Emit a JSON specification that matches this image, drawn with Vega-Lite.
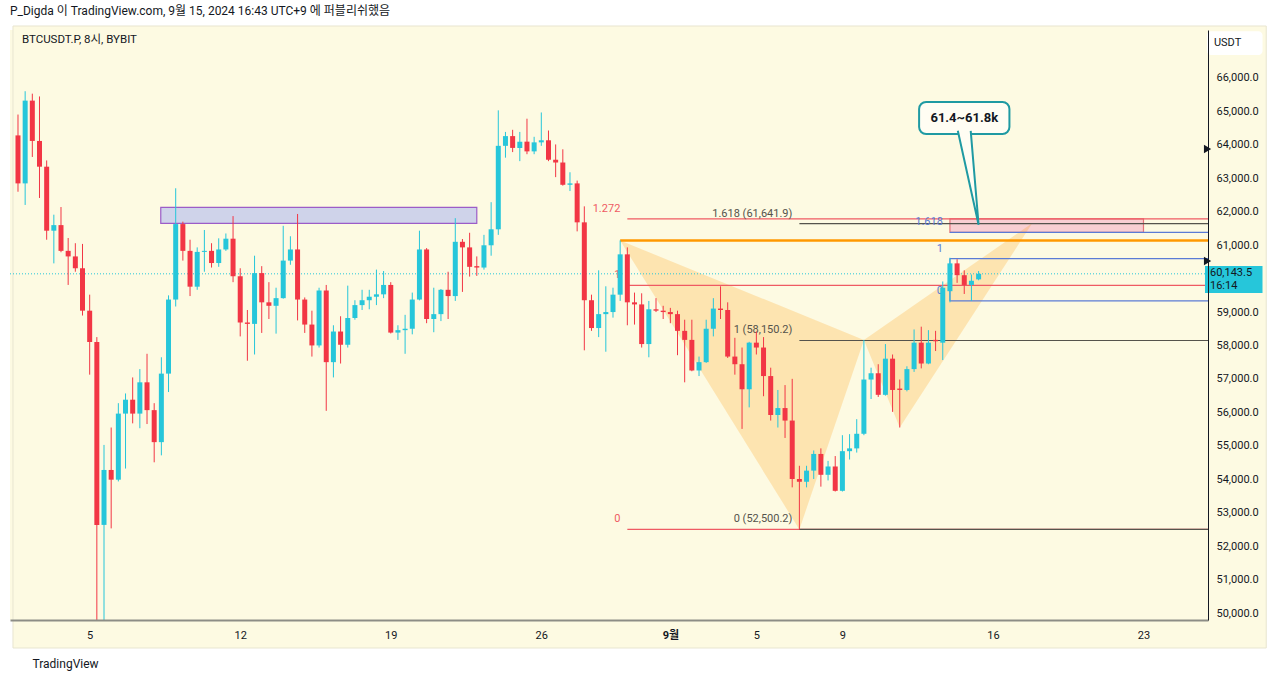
{
"$schema":"https://vega.github.io/schema/vega-lite/v6.json",
"width":1198,"height":590,
"autosize":{"type":"none"},
"padding":{"left":10,"top":30,"right":72,"bottom":61},
"background":"#ffffff",
"view":{"stroke":null,"fill":"#fdfae2"},
"config":{"font":"Roboto, Noto Sans CJK KR"},
"title":{"text":"P_Digda 이 TradingView.com, 9월 15, 2024 16:43 UTC+9 에 퍼블리쉬했음","anchor":"start","frame":"group","offset":7,"fontSize":12,"fontWeight":"normal","font":"Roboto, Noto Sans CJK KR","color":"#131722"},
"datasets":{
"candles":[
{"t":"2024-08-01T17:00Z","o":64283,"h":64907,"l":62598,"c":62848},
{"t":"2024-08-02T01:00Z","o":62848,"h":65604,"l":62203,"c":65323},
{"t":"2024-08-02T09:00Z","o":65323,"h":65531,"l":63638,"c":64117},
{"t":"2024-08-02T17:00Z","o":64117,"h":65448,"l":62411,"c":63347},
{"t":"2024-08-03T01:00Z","o":63347,"h":63534,"l":61163,"c":61433},
{"t":"2024-08-03T09:00Z","o":61433,"h":61912,"l":60456,"c":61600},
{"t":"2024-08-03T17:00Z","o":61600,"h":62141,"l":60789,"c":60830},
{"t":"2024-08-04T01:00Z","o":60830,"h":61215,"l":59811,"c":60664},
{"t":"2024-08-04T09:00Z","o":60664,"h":61059,"l":60206,"c":60310},
{"t":"2024-08-04T17:00Z","o":60310,"h":61038,"l":58896,"c":59041},
{"t":"2024-08-05T01:00Z","o":59041,"h":59520,"l":57128,"c":58105},
{"t":"2024-08-05T09:00Z","o":58105,"h":58251,"l":49000,"c":52635},
{"t":"2024-08-05T17:00Z","o":52635,"h":55027,"l":49500,"c":54278},
{"t":"2024-08-06T01:00Z","o":54278,"h":55547,"l":52531,"c":53987},
{"t":"2024-08-06T09:00Z","o":53987,"h":56275,"l":53935,"c":55963},
{"t":"2024-08-06T17:00Z","o":55963,"h":56566,"l":54320,"c":56379},
{"t":"2024-08-07T01:00Z","o":56379,"h":57045,"l":55672,"c":55963},
{"t":"2024-08-07T09:00Z","o":55963,"h":57294,"l":55526,"c":56899},
{"t":"2024-08-07T17:00Z","o":56899,"h":57752,"l":55651,"c":56067},
{"t":"2024-08-08T01:00Z","o":56067,"h":56275,"l":54507,"c":55110},
{"t":"2024-08-08T09:00Z","o":55110,"h":57648,"l":54715,"c":57159},
{"t":"2024-08-08T17:00Z","o":57159,"h":59499,"l":56608,"c":59374},
{"t":"2024-08-09T01:00Z","o":59374,"h":62702,"l":59166,"c":61631},
{"t":"2024-08-09T09:00Z","o":61631,"h":61704,"l":60539,"c":60830},
{"t":"2024-08-09T17:00Z","o":60830,"h":61163,"l":59478,"c":59759},
{"t":"2024-08-10T01:00Z","o":59759,"h":60934,"l":59666,"c":60799},
{"t":"2024-08-10T09:00Z","o":60799,"h":61454,"l":60206,"c":60830},
{"t":"2024-08-10T17:00Z","o":60830,"h":61059,"l":60331,"c":60466},
{"t":"2024-08-11T01:00Z","o":60466,"h":61205,"l":60352,"c":60872},
{"t":"2024-08-11T09:00Z","o":60872,"h":61350,"l":60830,"c":61194},
{"t":"2024-08-11T17:00Z","o":61194,"h":61870,"l":59894,"c":60071},
{"t":"2024-08-12T01:00Z","o":60071,"h":60310,"l":58272,"c":58688},
{"t":"2024-08-12T09:00Z","o":58688,"h":59062,"l":57544,"c":58646},
{"t":"2024-08-12T17:00Z","o":58646,"h":60685,"l":57731,"c":60165},
{"t":"2024-08-13T01:00Z","o":60165,"h":60373,"l":58376,"c":59291},
{"t":"2024-08-13T09:00Z","o":59291,"h":59894,"l":58792,"c":59187},
{"t":"2024-08-13T17:00Z","o":59187,"h":59728,"l":58355,"c":59416},
{"t":"2024-08-14T01:00Z","o":59416,"h":61579,"l":59400,"c":60539},
{"t":"2024-08-14T09:00Z","o":60539,"h":61267,"l":60414,"c":60872},
{"t":"2024-08-14T17:00Z","o":60872,"h":61933,"l":58750,"c":59374},
{"t":"2024-08-15T01:00Z","o":59374,"h":59437,"l":58376,"c":58626},
{"t":"2024-08-15T09:00Z","o":58626,"h":59041,"l":57669,"c":58002},
{"t":"2024-08-15T17:00Z","o":58002,"h":59728,"l":57939,"c":59645},
{"t":"2024-08-16T01:00Z","o":59645,"h":59811,"l":56046,"c":57502},
{"t":"2024-08-16T09:00Z","o":57502,"h":58605,"l":57045,"c":58418},
{"t":"2024-08-16T17:00Z","o":58418,"h":58875,"l":57461,"c":58022},
{"t":"2024-08-17T01:00Z","o":58022,"h":59790,"l":57939,"c":58823},
{"t":"2024-08-17T09:00Z","o":58823,"h":59354,"l":58771,"c":59208},
{"t":"2024-08-17T17:00Z","o":59208,"h":59666,"l":59062,"c":59354},
{"t":"2024-08-18T01:00Z","o":59354,"h":59666,"l":59083,"c":59458},
{"t":"2024-08-18T09:00Z","o":59458,"h":60269,"l":59208,"c":59530},
{"t":"2024-08-18T17:00Z","o":59530,"h":60227,"l":59416,"c":59811},
{"t":"2024-08-19T01:00Z","o":59811,"h":59894,"l":58360,"c":58386},
{"t":"2024-08-19T09:00Z","o":58386,"h":58605,"l":58168,"c":58459},
{"t":"2024-08-19T17:00Z","o":58459,"h":58917,"l":57752,"c":58501},
{"t":"2024-08-20T01:00Z","o":58501,"h":59582,"l":58334,"c":59374},
{"t":"2024-08-20T09:00Z","o":59374,"h":61433,"l":59350,"c":60872},
{"t":"2024-08-20T17:00Z","o":60872,"h":60913,"l":58667,"c":58792},
{"t":"2024-08-21T01:00Z","o":58792,"h":59728,"l":58397,"c":58938},
{"t":"2024-08-21T09:00Z","o":58938,"h":59690,"l":58730,"c":59666},
{"t":"2024-08-21T17:00Z","o":59666,"h":60206,"l":58792,"c":59478},
{"t":"2024-08-22T01:00Z","o":59478,"h":61808,"l":59333,"c":61101},
{"t":"2024-08-22T09:00Z","o":61101,"h":61184,"l":59603,"c":60934},
{"t":"2024-08-22T17:00Z","o":60934,"h":61371,"l":60061,"c":60352},
{"t":"2024-08-23T01:00Z","o":60373,"h":60664,"l":60082,"c":60331},
{"t":"2024-08-23T09:00Z","o":60331,"h":61309,"l":60269,"c":60997},
{"t":"2024-08-23T17:00Z","o":60997,"h":62286,"l":60685,"c":61475},
{"t":"2024-08-24T01:00Z","o":61475,"h":65032,"l":61309,"c":63971},
{"t":"2024-08-24T09:00Z","o":63971,"h":64387,"l":63617,"c":64262},
{"t":"2024-08-24T17:00Z","o":64262,"h":64450,"l":63784,"c":63909},
{"t":"2024-08-25T01:00Z","o":63909,"h":64387,"l":63513,"c":64096},
{"t":"2024-08-25T09:00Z","o":64096,"h":64782,"l":63721,"c":63805},
{"t":"2024-08-25T17:00Z","o":63805,"h":64241,"l":63721,"c":64075},
{"t":"2024-08-26T01:00Z","o":64075,"h":64969,"l":63971,"c":64137},
{"t":"2024-08-26T09:00Z","o":64137,"h":64429,"l":63513,"c":63555},
{"t":"2024-08-26T17:00Z","o":63555,"h":64013,"l":63035,"c":63472},
{"t":"2024-08-27T01:00Z","o":63472,"h":63867,"l":62780,"c":62806},
{"t":"2024-08-27T09:00Z","o":62806,"h":63181,"l":62619,"c":62848},
{"t":"2024-08-27T17:00Z","o":62848,"h":62931,"l":61413,"c":61683},
{"t":"2024-08-28T01:00Z","o":61683,"h":62161,"l":57856,"c":59354},
{"t":"2024-08-28T09:00Z","o":59354,"h":59520,"l":58438,"c":58522},
{"t":"2024-08-28T17:00Z","o":58522,"h":60248,"l":58251,"c":58938},
{"t":"2024-08-29T01:00Z","o":58938,"h":59770,"l":57814,"c":59000},
{"t":"2024-08-29T09:00Z","o":59000,"h":59728,"l":58834,"c":59520},
{"t":"2024-08-29T17:00Z","o":59520,"h":61142,"l":59333,"c":60726},
{"t":"2024-08-30T01:00Z","o":60726,"h":60934,"l":58605,"c":59291},
{"t":"2024-08-30T09:00Z","o":59291,"h":59582,"l":58626,"c":59229},
{"t":"2024-08-30T17:00Z","o":59229,"h":59561,"l":57939,"c":58043},
{"t":"2024-08-31T01:00Z","o":58043,"h":59333,"l":57648,"c":59083},
{"t":"2024-08-31T09:00Z","o":59083,"h":59416,"l":59000,"c":59041},
{"t":"2024-08-31T17:00Z","o":59041,"h":59187,"l":58792,"c":59000},
{"t":"2024-09-01T01:00Z","o":59000,"h":59125,"l":58667,"c":58938},
{"t":"2024-09-01T09:00Z","o":58938,"h":59041,"l":57710,"c":58438},
{"t":"2024-09-01T17:00Z","o":58438,"h":58771,"l":56899,"c":58168},
{"t":"2024-09-02T01:00Z","o":58168,"h":58771,"l":57230,"c":57253},
{"t":"2024-09-02T09:00Z","o":57253,"h":57669,"l":57086,"c":57502},
{"t":"2024-09-02T17:00Z","o":57502,"h":58771,"l":57480,"c":58501},
{"t":"2024-09-03T01:00Z","o":58501,"h":59416,"l":58272,"c":59104},
{"t":"2024-09-03T09:00Z","o":59104,"h":59770,"l":58792,"c":59062},
{"t":"2024-09-03T17:00Z","o":59062,"h":59291,"l":57627,"c":57669},
{"t":"2024-09-04T01:00Z","o":57669,"h":58230,"l":57128,"c":57440},
{"t":"2024-09-04T09:00Z","o":57440,"h":57939,"l":55506,"c":56691},
{"t":"2024-09-04T17:00Z","o":56691,"h":58110,"l":56150,"c":58085},
{"t":"2024-09-05T01:00Z","o":58085,"h":58418,"l":57731,"c":57939},
{"t":"2024-09-05T09:00Z","o":57939,"h":58251,"l":56483,"c":57086},
{"t":"2024-09-05T17:00Z","o":57086,"h":57336,"l":55755,"c":55922},
{"t":"2024-09-06T01:00Z","o":55922,"h":56670,"l":55547,"c":56129},
{"t":"2024-09-06T09:00Z","o":56129,"h":56816,"l":55235,"c":55755},
{"t":"2024-09-06T17:00Z","o":55755,"h":57003,"l":53758,"c":54008},
{"t":"2024-09-07T01:00Z","o":54008,"h":54403,"l":52500,"c":53925},
{"t":"2024-09-07T09:00Z","o":53925,"h":54403,"l":53758,"c":54258},
{"t":"2024-09-07T17:00Z","o":54258,"h":54861,"l":54008,"c":54757},
{"t":"2024-09-08T01:00Z","o":54757,"h":54923,"l":53779,"c":54133},
{"t":"2024-09-08T09:00Z","o":54133,"h":54549,"l":53965,"c":54382},
{"t":"2024-09-08T17:00Z","o":54382,"h":54694,"l":53633,"c":53654},
{"t":"2024-09-09T01:00Z","o":53654,"h":55318,"l":53633,"c":54840},
{"t":"2024-09-09T09:00Z","o":54840,"h":55349,"l":54590,"c":54923},
{"t":"2024-09-09T17:00Z","o":54923,"h":55797,"l":54798,"c":55360},
{"t":"2024-09-10T01:00Z","o":55360,"h":58168,"l":55318,"c":56982},
{"t":"2024-09-10T09:00Z","o":56982,"h":57336,"l":56400,"c":57170},
{"t":"2024-09-10T17:00Z","o":57170,"h":57440,"l":56462,"c":56525},
{"t":"2024-09-11T01:00Z","o":56525,"h":58043,"l":56500,"c":57606},
{"t":"2024-09-11T09:00Z","o":57606,"h":57731,"l":56015,"c":56670},
{"t":"2024-09-11T17:00Z","o":56712,"h":56982,"l":55547,"c":56670},
{"t":"2024-09-12T01:00Z","o":56670,"h":57378,"l":56629,"c":57294},
{"t":"2024-09-12T09:00Z","o":57294,"h":58480,"l":57211,"c":58085},
{"t":"2024-09-12T17:00Z","o":58085,"h":58563,"l":57315,"c":57461},
{"t":"2024-09-13T01:00Z","o":57461,"h":58459,"l":57440,"c":58085},
{"t":"2024-09-13T09:00Z","o":58168,"h":58438,"l":57835,"c":58126},
{"t":"2024-09-13T17:00Z","o":58085,"h":59915,"l":57565,"c":59728},
{"t":"2024-09-14T01:00Z","o":59624,"h":60623,"l":59291,"c":60456},
{"t":"2024-09-14T09:00Z","o":60456,"h":60581,"l":59874,"c":60102},
{"t":"2024-09-14T17:00Z","o":60102,"h":60248,"l":59541,"c":59811},
{"t":"2024-09-15T01:00Z","o":59811,"h":60123,"l":59333,"c":59936},
{"t":"2024-09-15T09:00Z","o":59978,"h":60227,"l":59950,"c":60143.5}
],
"pane":[{"t1":"2024-08-01T11:25Z","t2":"2024-09-28T18:00Z","p1":48954,"p2":67555}],
"zones":[
{"g":"purple","t1":"2024-08-08T08:20Z","t2":"2024-08-23T01:00Z","p1":61652,"p2":62130},
{"g":"pink","t1":"2024-09-14T01:00Z","t2":"2024-09-23T01:00Z","p1":61385,"p2":61786}
],
"xabcd":[
{"s":"XAB","k":1,"t":"2024-08-29T17:00Z","p":61140},
{"s":"XAB","k":2,"t":"2024-09-07T01:00Z","p":52500},
{"s":"XAB","k":3,"t":"2024-09-10T01:00Z","p":58168},
{"s":"BCD","k":1,"t":"2024-09-10T01:00Z","p":58168},
{"s":"BCD","k":2,"t":"2024-09-11T17:00Z","p":55547},
{"s":"BCD","k":3,"t":"2024-09-17T21:00Z","p":61660}
],
"cur":[{"p":60143.5}],
"fib":[
{"g":"red","t1":"2024-08-30T01:00Z","p":61786,"txt":"1.272"},
{"g":"red","t1":"2024-08-30T01:00Z","p":59800,"txt":"1"},
{"g":"red","t1":"2024-08-30T01:00Z","p":52500,"txt":"0"},
{"g":"black","t1":"2024-09-07T01:00Z","p":61641.9,"txt":"1.618 (61,641.9)"},
{"g":"black","t1":"2024-09-07T01:00Z","p":58150.2,"txt":"1 (58,150.2)"},
{"g":"black","t1":"2024-09-07T01:00Z","p":52500.2,"txt":"0 (52,500.2)"},
{"g":"blue","t1":"2024-09-14T01:00Z","p":61385,"txt":"1.618"},
{"g":"blue","t1":"2024-09-14T01:00Z","p":60600,"txt":"1"},
{"g":"blue","t1":"2024-09-14T01:00Z","p":59333,"txt":"0"}
],
"blueside":[{"t":"2024-09-14T01:00Z","p1":59333,"p2":60600}],
"orange":[{"t1":"2024-08-29T17:00Z","p":61140}],
"callout":[{"t1":"2024-09-12T14:36Z","t2":"2024-09-16T19:24Z","p1":64325,"p2":65282,"tc":"2024-09-14T17:00Z","pc":64804,"txt":"61.4~61.8k"}],
"ptr":[
{"k":1,"t":"2024-09-14T09:48Z","p":64420},
{"k":2,"t":"2024-09-15T09:00Z","p":61610},
{"k":3,"t":"2024-09-15T00:12Z","p":64420}
],
"tag":[{"t1":"2024-09-25T21:38Z","t2":"2024-09-28T13:49Z","p1":59571,"p2":60378}],
"tagtxt":[
{"t":"2024-09-26T03:10Z","p":60169,"txt":"60,143.5"},
{"t":"2024-09-26T03:10Z","p":59780,"txt":"16:14"}
],
"unit":[{"t1":"2024-09-25T23:50Z","t2":"2024-09-28T13:50Z","p1":66688,"p2":67400,"tt":"2024-09-26T07:37Z","pt":67045,"txt":"USDT"}],
"marks":[{"t":"2024-09-26T00:30Z","p":63877},{"t":"2024-09-26T00:30Z","p":60527}],
"hdr":[{"t":"2024-08-01T21:25Z","p":67136,"txt":"BTCUSDT.P, 8시, BYBIT"}]
},
"layer":[
{"data":{"name":"pane"},"mark":{"type":"rect","fill":"#fdfae2","stroke":"#e8e5d0","strokeWidth":1,"clip":false},
 "encoding":{"x":{"field":"t1","type":"temporal"},"x2":{"field":"t2"},"y":{"field":"p1","type":"quantitative"},"y2":{"field":"p2"}}},
{"data":{"name":"zones"},"mark":{"type":"rect","strokeWidth":1.2,"clip":true},
 "encoding":{"x":{"field":"t1","type":"temporal"},"x2":{"field":"t2"},"y":{"field":"p1","type":"quantitative"},"y2":{"field":"p2"},
 "fill":{"field":"g","type":"nominal","scale":{"domain":["purple","pink"],"range":["#cfd3ea","#f9cfd2"]},"legend":null},
 "stroke":{"field":"g","type":"nominal","scale":{"domain":["purple","pink"],"range":["#9c5cc8","#e5737a"]},"legend":null}}},
{"data":{"name":"xabcd"},"mark":{"type":"line","interpolate":"linear-closed","fill":"#ff9800","fillOpacity":0.22,"stroke":"#ff9800","strokeOpacity":0,"clip":true},
 "encoding":{"x":{"field":"t","type":"temporal"},"y":{"field":"p","type":"quantitative"},"detail":{"field":"s"},"order":{"field":"k"}}},
{"data":{"name":"cur"},"mark":{"type":"rule","color":"#26c6da","strokeDash":[1,2],"strokeWidth":1},
 "encoding":{"y":{"field":"p","type":"quantitative"}}},
{"data":{"name":"fib"},"mark":{"type":"rule","strokeWidth":1.2,"clip":true},
 "encoding":{"x":{"field":"t1","type":"temporal"},"x2":{"datum":{"year":2024,"month":9,"date":27,"utc":true}},"y":{"field":"p","type":"quantitative"},
 "color":{"field":"g","type":"nominal","scale":{"domain":["red","black","blue"],"range":["#ef5a63","#55534c","#5b7bd5"]},"legend":null}}},
{"data":{"name":"blueside"},"mark":{"type":"rule","strokeWidth":1.2,"color":"#5b7bd5"},
 "encoding":{"x":{"field":"t","type":"temporal"},"y":{"field":"p1","type":"quantitative"},"y2":{"field":"p2"}}},
{"data":{"name":"orange"},"mark":{"type":"rule","strokeWidth":2.5,"color":"#ff9800","clip":true},
 "encoding":{"x":{"field":"t1","type":"temporal"},"x2":{"datum":{"year":2024,"month":9,"date":27,"utc":true}},"y":{"field":"p","type":"quantitative"}}},
{"data":{"name":"fib"},"mark":{"type":"text","align":"right","baseline":"bottom","dx":-7,"dy":-5,"fontSize":11,"font":"Roboto"},
 "encoding":{"x":{"field":"t1","type":"temporal"},"y":{"field":"p","type":"quantitative"},"text":{"field":"txt"},
 "color":{"field":"g","type":"nominal","legend":null}}},
{"data":{"name":"candles"},"mark":{"type":"rule","clip":true,"strokeWidth":1},
 "encoding":{
 "x":{"field":"t","type":"temporal",
  "scale":{"type":"utc","domain":[{"year":2024,"month":8,"date":1,"hours":13,"minutes":40,"utc":true},{"year":2024,"month":9,"date":25,"hours":19,"minutes":25,"utc":true}]},
  "axis":{"values":[{"year":2024,"month":8,"date":5,"hours":1,"utc":true},{"year":2024,"month":8,"date":12,"hours":1,"utc":true},{"year":2024,"month":8,"date":19,"hours":1,"utc":true},{"year":2024,"month":8,"date":26,"hours":1,"utc":true},{"year":2024,"month":9,"date":1,"hours":1,"utc":true},{"year":2024,"month":9,"date":5,"hours":1,"utc":true},{"year":2024,"month":9,"date":9,"hours":1,"utc":true},{"year":2024,"month":9,"date":16,"hours":1,"utc":true},{"year":2024,"month":9,"date":23,"hours":1,"utc":true}],
   "tickCount":20,
   "labelExpr":"utcdate(datum.value) == 1 ? '9월' : '' + utcdate(datum.value)",
   "labelFontWeight":{"condition":{"test":"utcdate(datum.value) == 1","value":"bold"},"value":"normal"},
   "labelFont":"Roboto, Noto Sans CJK KR","labelFontSize":11,"labelColor":"#131722","labelPadding":9,"ticks":false,"grid":false,
   "domainColor":"#8d8d86","domainWidth":2,"labelOverlap":false,"labelFlush":false,"zindex":1,
   "title":"TradingView","titleAnchor":"start","titleAlign":"left","titleX":22,"titleY":43,"titleBaseline":"middle","titleFontSize":12,"titleFontWeight":"normal","titleColor":"#131722","titleFont":"Roboto"}},
 "y":{"field":"l","type":"quantitative","scale":{"domain":[49791,67435],"nice":false,"zero":false},
  "axis":{"orient":"right","values":[50000,51000,52000,53000,54000,55000,56000,57000,58000,59000,61000,62000,63000,64000,65000,66000],
   "tickCount":30,
   "format":",.1f","labelFont":"Roboto","labelFontSize":11,"labelColor":"#131722","labelPadding":8,"ticks":false,"grid":false,
   "domainColor":"#131722","domainWidth":1,"title":null,"labelOverlap":false,"labelFlush":false,"zindex":1}},
 "y2":{"field":"h"},
 "color":{"condition":{"test":"datum.c >= datum.o","value":"#26c6da"},"value":"#f23645"}}},
{"data":{"name":"candles"},"mark":{"type":"bar","clip":true,"width":5},
 "encoding":{"x":{"field":"t","type":"temporal"},"y":{"field":"o","type":"quantitative"},"y2":{"field":"c"},
 "color":{"condition":{"test":"datum.c >= datum.o","value":"#26c6da"},"value":"#f23645"}}},
{"data":{"name":"callout"},"mark":{"type":"rect","fill":"#fffdf3","stroke":"#1f9aa3","strokeWidth":2,"cornerRadius":7},
 "encoding":{"x":{"field":"t1","type":"temporal"},"x2":{"field":"t2"},"y":{"field":"p1","type":"quantitative"},"y2":{"field":"p2"}}},
{"data":{"name":"ptr"},"mark":{"type":"line","interpolate":"linear","fill":"#fffdf3","stroke":"#1f9aa3","strokeWidth":2},
 "encoding":{"x":{"field":"t","type":"temporal"},"y":{"field":"p","type":"quantitative"},"order":{"field":"k"}}},
{"data":{"name":"callout"},"mark":{"type":"text","align":"center","baseline":"middle","fontSize":13,"fontWeight":"bold","font":"Roboto","color":"#131722"},
 "encoding":{"x":{"field":"tc","type":"temporal"},"y":{"field":"pc","type":"quantitative"},"text":{"field":"txt"}}},
{"data":{"name":"tag"},"mark":{"type":"rect","fill":"#26c6da"},
 "encoding":{"x":{"field":"t1","type":"temporal"},"x2":{"field":"t2"},"y":{"field":"p1","type":"quantitative"},"y2":{"field":"p2"}}},
{"data":{"name":"tagtxt"},"mark":{"type":"text","align":"left","baseline":"middle","fontSize":11,"font":"Roboto","color":"#131722"},
 "encoding":{"x":{"field":"t","type":"temporal"},"y":{"field":"p","type":"quantitative"},"text":{"field":"txt"}}},
{"data":{"name":"unit"},"mark":{"type":"rect","fill":"#ffffff","cornerRadius":4},
 "encoding":{"x":{"field":"t1","type":"temporal"},"x2":{"field":"t2"},"y":{"field":"p1","type":"quantitative"},"y2":{"field":"p2"}}},
{"data":{"name":"unit"},"mark":{"type":"text","align":"left","baseline":"middle","fontSize":11,"font":"Roboto","color":"#131722"},
 "encoding":{"x":{"field":"tt","type":"temporal"},"y":{"field":"pt","type":"quantitative"},"text":{"field":"txt"}}},
{"data":{"name":"marks"},"mark":{"type":"point","shape":"triangle-right","filled":true,"size":70,"color":"#131722","opacity":1},
 "encoding":{"x":{"field":"t","type":"temporal"},"y":{"field":"p","type":"quantitative"}}},
{"data":{"name":"hdr"},"mark":{"type":"text","align":"left","baseline":"middle","fontSize":11.5,"font":"Roboto, Noto Sans CJK KR","color":"#131722"},
 "encoding":{"x":{"field":"t","type":"temporal"},"y":{"field":"p","type":"quantitative"},"text":{"field":"txt"}}}
]
}
